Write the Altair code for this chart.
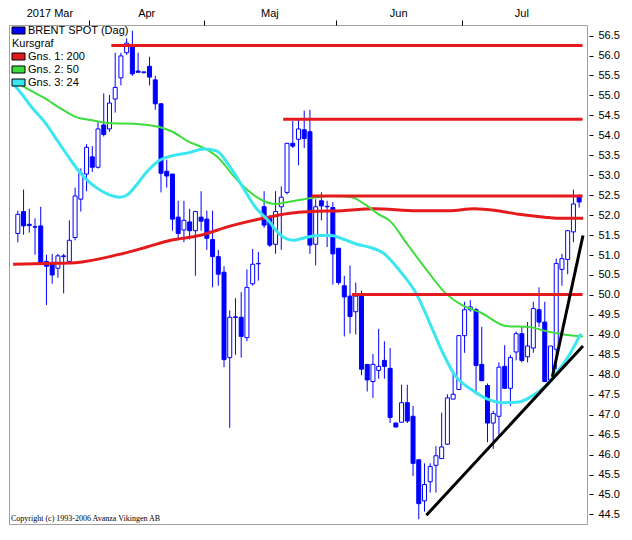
import altair as alt
import pandas as pd

# ---------------- data ----------------
opens = [51.54, 52.09, 51.77, 51.71, 51.73, 50.84, 50.79, 50.67, 50.96, 50.84,
         51.44, 52.40, 53.03, 53.46, 53.20, 54.26, 54.16, 54.91, 55.44, 56.07,
         56.23, 55.61, 55.57, 55.73, 55.39, 54.79, 53.10, 53.03, 51.95, 51.63,
         51.83, 51.61, 51.95, 51.90, 51.39, 50.96, 50.57, 48.43, 49.45, 49.44,
         48.93, 50.28, 50.78, 52.21, 51.92, 51.27, 52.21, 52.57, 53.80, 53.90,
         54.14, 54.09, 51.27, 52.36, 52.22, 52.19, 51.17, 50.23, 49.97, 49.58,
         49.97, 48.26, 47.83, 48.11, 48.36, 48.16, 46.79, 46.81, 47.30, 46.96,
         45.87, 44.84, 45.32, 45.73, 45.90, 46.26, 47.39, 47.63, 48.98, 49.63,
         49.63, 48.26, 47.73, 46.79, 46.96, 48.21, 47.66, 48.57, 49.03, 48.45,
         48.67, 49.63, 49.32, 47.87, 48.64, 50.64, 50.89, 51.58, 52.45]
highs = [52.11, 52.64, 52.16, 51.92, 52.21, 51.01, 51.03, 51.03, 51.03, 51.87,
         52.69, 53.17, 53.78, 53.73, 54.33, 55.05, 55.01, 56.07, 56.07, 56.43,
         56.62, 56.07, 55.60, 55.97, 55.49, 54.81, 53.39, 53.03, 52.36, 52.36,
         52.16, 52.11, 52.60, 52.11, 52.11, 51.13, 50.72, 49.61, 49.92, 50.07,
         50.64, 51.15, 51.08, 52.60, 52.00, 52.60, 52.72, 53.80, 54.36, 54.40,
         54.62, 54.64, 52.40, 52.57, 52.36, 52.33, 51.17, 50.48, 50.74, 50.31,
         50.11, 48.26, 48.52, 49.15, 48.84, 48.67, 46.80, 47.75, 47.75, 47.22,
         45.87, 45.78, 45.78, 46.21, 47.05, 47.51, 48.02, 49.00, 49.83, 49.87,
         49.68, 49.20, 47.78, 47.10, 48.31, 48.74, 48.50, 49.08, 49.22, 49.32,
         49.83, 50.19, 49.83, 48.72, 50.91, 51.03, 51.63, 52.64, 52.52]
lows = [51.32, 51.51, 51.56, 51.01, 50.77, 49.75, 50.28, 50.43, 50.04, 50.79,
        51.37, 52.09, 52.60, 53.08, 53.17, 53.97, 54.09, 54.57, 55.25, 56.02,
        55.49, 55.58, 55.55, 55.25, 54.64, 52.57, 52.69, 51.61, 51.39, 51.32,
        51.39, 50.48, 51.61, 51.13, 50.19, 50.23, 48.19, 46.67, 48.50, 48.43,
        48.84, 50.23, 50.36, 51.68, 51.20, 51.03, 51.13, 52.52, 53.68, 53.25,
        53.68, 51.03, 50.74, 51.87, 51.20, 50.26, 50.26, 48.96, 49.03, 49.01,
        47.99, 47.58, 47.42, 47.90, 47.90, 46.79, 46.69, 46.81, 46.79, 45.46,
        44.38, 44.57, 45.05, 45.05, 45.90, 46.24, 47.39, 47.63, 48.55, 49.58,
        47.51, 47.85, 46.31, 46.14, 46.45, 47.66, 47.22, 48.36, 48.31, 48.31,
        48.55, 49.20, 47.83, 47.83, 48.14, 50.23, 50.52, 51.32, 52.19]
closes = [52.02, 51.73, 51.74, 51.70, 50.79, 50.72, 50.50, 50.98, 50.98, 51.37,
          52.48, 53.05, 53.70, 53.20, 54.16, 54.02, 54.81, 55.20, 55.99, 56.31,
          55.54, 55.58, 55.59, 55.46, 54.79, 53.05, 52.98, 51.90, 51.54, 51.87,
          51.61, 52.09, 51.85, 51.42, 50.96, 50.52, 48.38, 49.44, 49.44, 48.96,
          50.19, 50.77, 50.79, 51.75, 51.25, 52.09, 52.45, 53.80, 53.73, 54.16,
          53.92, 51.25, 52.21, 52.23, 52.21, 51.03, 50.31, 49.95, 49.46, 49.97,
          48.14, 47.87, 48.26, 48.21, 48.21, 46.93, 46.69, 47.30, 46.84, 45.78,
          44.77, 45.25, 45.70, 45.97, 46.19, 47.42, 47.51, 48.98, 49.63, 49.70,
          48.23, 47.85, 46.79, 47.03, 48.19, 47.66, 48.43, 49.03, 48.36, 48.72,
          49.66, 49.32, 47.83, 48.72, 50.79, 50.91, 51.61, 52.28, 52.33]

# moving averages (trading-day index, price)
ma200_idx = [-0.83, 5, 10, 17.5, 22.5, 26.7, 31.7, 37.2, 42.8, 47.2, 51.2,
             56.7, 62.2, 69.7, 75.3, 79.7, 83.7, 87.5, 92, 95.3, 98.7]
ma200_val = [50.77, 50.79, 50.81, 51.01, 51.20, 51.37, 51.49, 51.73, 51.92,
             52.04, 52.09, 52.11, 52.16, 52.11, 52.11, 52.16, 52.11, 52.02,
             51.95, 51.92, 51.92]
ma50_idx = [-0.83, 2.5, 4.7, 7.5, 10.3, 13, 15.8, 21.3, 24.7, 27, 29.7, 32.5,
            35, 37.8, 40, 42.8, 45, 47.2, 50, 52.2, 55, 58.3, 60.5, 62.8, 65,
            68, 71.3, 74.7, 77.5, 80.8, 85.3, 89.2, 92, 95.3, 98.7]
ma50_val = [55.37, 55.10, 54.93, 54.67, 54.45, 54.38, 54.31, 54.28, 54.21,
            54.09, 53.85, 53.68, 53.44, 52.96, 52.64, 52.36, 52.28, 52.33,
            52.40, 52.45, 52.48, 52.45, 52.28, 52.04, 51.85, 51.27, 50.64,
            50.04, 49.75, 49.56, 49.22, 49.20, 49.10, 49.01, 48.96]
ma24_idx = [-0.83, 0.83, 2.5, 4.7, 7, 8.7, 10.3, 12, 13.7, 15.8, 17.8, 19.2,
            20.8, 22.5, 24.7, 27, 29.7, 32.5, 34.7, 37, 39.2, 41.3, 43.7, 45.8,
            48, 50.3, 52.5, 54.7, 57, 59.2, 61.3, 63.8, 67, 69.7, 72, 74.2,
            76.3, 79.2, 82, 84.7, 87.5, 89.7, 92, 94.2, 96.3, 98.3]
ma24_val = [55.30, 55.01, 54.69, 54.33, 53.85, 53.49, 53.17, 52.89, 52.69,
            52.52, 52.45, 52.52, 52.77, 53.08, 53.37, 53.49, 53.56, 53.66,
            53.61, 53.22, 52.72, 52.23, 51.87, 51.51, 51.37, 51.44, 51.49,
            51.49, 51.39, 51.27, 51.20, 51.05, 50.55, 50.00, 49.27, 48.55,
            47.99, 47.63, 47.39, 47.30, 47.32, 47.46, 47.70, 48.07, 48.50, 49.03]

# horizontal resistance / support lines
level_price = [56.25, 54.40, 52.48, 50.01]
level_start = [16.33, 46.33, 51.33, 58.33]
level_end = [98.6, 98.6, 98.6, 98.6]

# trend lines
trend_x1 = [71.33, 93.33]
trend_y1 = [44.48, 47.95]
trend_x2 = [98.67, 98.67]
trend_y2 = [48.72, 51.49]

month_labels = ["2017 Mar", "Apr", "Maj", "Jun", "Jul"]
month_label_pos = [5.6, 22.5, 44.0, 66.5, 88.0]
month_bounds = [12.5, 32.5, 55.5, 77.5]
y_ticks = [44.5, 45.0, 45.5, 46.0, 46.5, 47.0, 47.5, 48.0, 48.5, 49.0, 49.5,
           50.0, 50.5, 51.0, 51.5, 52.0, 52.5, 53.0, 53.5, 54.0, 54.5, 55.0,
           55.5, 56.0, 56.5]

legend_labels = ["BRENT SPOT (Dag)", "Kursgraf", "Gns. 1: 200", "Gns. 2: 50", "Gns. 3: 24"]
copyright_text = "Copyright (c) 1993-2006 Avanza Vikingen AB"

# ---------------- styling ----------------
BLUE = "#0000ff"
RED = "#e41a1c"
GREEN = "#3cdc3c"
CYAN = "#3ae6f0"
FONT = "Liberation Sans"
W, H = 578, 499

legend_colors = [BLUE, None, RED, GREEN, CYAN]

XS = alt.Scale(domain=[-0.667, 98.5], nice=False, zero=False)
YS = alt.Scale(domain=[44.26, 56.765], nice=False, zero=False)
XA = alt.Axis(orient="top", values=month_bounds, labels=False, ticks=True,
              tickSize=5, tickColor="#000000", domain=False, grid=False, title=None)
YA = alt.Axis(orient="right", values=y_ticks, format=".1f", tickSize=4,
              tickColor="#000000", domain=False, grid=False, title=None,
              labelFont=FONT, labelFontSize=11, labelColor="#000000",
              labelPadding=5, offset=2)


def X(f):
    return alt.X(f, type="quantitative", scale=XS, axis=XA)


def Y(f):
    return alt.Y(f, type="quantitative", scale=YS, axis=YA)


candles = pd.DataFrame({"i": list(range(len(opens))), "open": opens,
                        "high": highs, "low": lows, "close": closes})

wicks = alt.Chart(candles).mark_rule(color=BLUE, strokeWidth=1).encode(
    x=X("i"), y=Y("low"), y2="high")
bodies = alt.Chart(candles).mark_bar(size=4, stroke=BLUE, strokeWidth=1).encode(
    x=X("i"), y=Y("open"), y2="close",
    fill=alt.condition("datum.close >= datum.open", alt.value("#ffffff"), alt.value(BLUE)))


def ma_line(ix, vals, color, width):
    df = pd.DataFrame({"i": ix, "v": vals})
    return alt.Chart(df).mark_line(color=color, strokeWidth=width,
                                   interpolate="monotone", clip=True).encode(
        x=X("i"), y=Y("v"))


ma200 = ma_line(ma200_idx, ma200_val, RED, 3)
ma50 = ma_line(ma50_idx, ma50_val, GREEN, 2)
ma24 = ma_line(ma24_idx, ma24_val, CYAN, 3)

levels = alt.Chart(pd.DataFrame({"s": level_start, "e": level_end, "p": level_price})).mark_rule(
    color=RED, strokeWidth=3).encode(x=X("s"), x2="e", y=Y("p"))

trends = alt.Chart(pd.DataFrame({"x1": trend_x1, "x2": trend_x2, "y1": trend_y1, "y2": trend_y2})).mark_rule(
    color="#000000", strokeWidth=3).encode(x=X("x1"), x2="x2", y=Y("y1"), y2="y2")

months = alt.Chart(pd.DataFrame({"pos": month_label_pos, "label": month_labels})).mark_text(
    font=FONT, fontSize=11, color="#000000", baseline="alphabetic", align="center").encode(
    x=X("pos"), y=alt.value(-8), text="label:N")

legend_layers = []
for k, (lab, col) in enumerate(zip(legend_labels, legend_colors)):
    yc = 6 + 13 * k
    one = pd.DataFrame({"label": [lab]})
    if col is not None:
        legend_layers.append(alt.Chart(one).mark_rect(fill=col, stroke="#000000", strokeWidth=1).encode(
            x=alt.value(3), x2=alt.value(16), y=alt.value(yc - 4), y2=alt.value(yc + 3)))
        tx = 19
    else:
        tx = 3
    legend_layers.append(alt.Chart(one).mark_text(
        font=FONT, fontSize=11, color="#000000", align="left", baseline="middle").encode(
        x=alt.value(tx), y=alt.value(yc), text="label:N"))

copyright_layer = alt.Chart(pd.DataFrame({"t": [copyright_text]})).mark_text(
    font="Liberation Serif", fontSize=8, color="#000000", align="left", baseline="alphabetic").encode(
    x=alt.value(2), y=alt.value(H - 3), text="t:N")

chart = alt.layer(
    wicks, bodies, ma200, ma50, ma24, levels, trends, months,
    *legend_layers, copyright_layer
).properties(
    width=W, height=H,
    padding={"left": 1, "top": 17, "right": 35, "bottom": 1},
    autosize=alt.AutoSizeParams(type="none"),
    background="#ffffff",
).configure_view(stroke="#a0a0a0", strokeWidth=1)

chart.save("out.html", embed_options={"renderer": "svg", "actions": False})
